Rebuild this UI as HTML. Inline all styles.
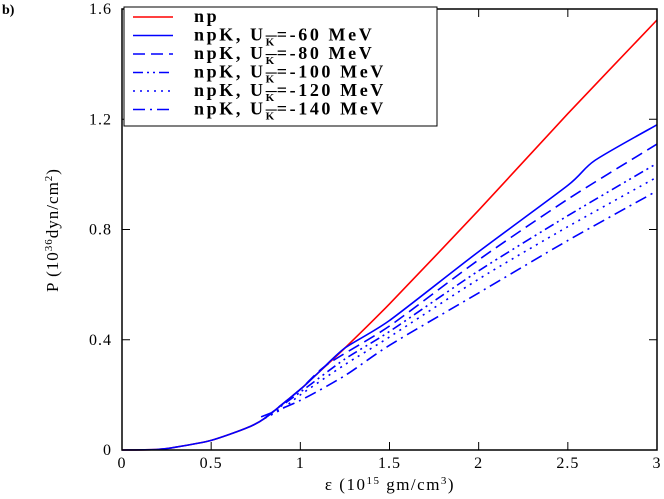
<!DOCTYPE html>
<html><head><meta charset="utf-8"><style>
body{margin:0;background:#fff;width:664px;height:494px;overflow:hidden}
text{font-family:"Liberation Serif",serif}
</style></head><body>
<svg id="chart" width="664" height="494" xmlns="http://www.w3.org/2000/svg"></svg>
<script>
const xTicks=[0,0.5,1,1.5,2,2.5,3];
const xTickLabels=["0","0.5","1","1.5","2","2.5","3"];
const yTicks=[0,0.4,0.8,1.2,1.6];
const yTickLabels=["0","0.4","0.8","1.2","1.6"];
const seriesNames=["np","-60","-80","-100","-120","-140"];
const xNp=[0,0.2,0.3,0.5,0.7,0.8,1.0,1.1,1.25,1.5,2.0,2.5,3.0];
const yNp=[0,0.002,0.01,0.035,0.08,0.115,0.22,0.28,0.37,0.53,0.87,1.22,1.56];
const x60=[0,0.2,0.3,0.5,0.7,0.8,1.0,1.1,1.25,1.5,2.0,2.5,2.65,3.0];
const y60=[0,0.002,0.01,0.035,0.08,0.115,0.22,0.28,0.37,0.47,0.72,0.96,1.05,1.18];
const x80=[0.8,1.0,1.15,1.5,2.0,2.5,3.0];
const y80=[0.115,0.22,0.31,0.45,0.69,0.91,1.11];
const x100=[0.8,1.0,1.25,1.5,2.0,2.5,3.0];
const y100=[0.115,0.21,0.33,0.43,0.65,0.85,1.04];
const x120=[0.8,0.9,1.0,1.25,1.5,2.0,2.5,3.0];
const y120=[0.115,0.15,0.2,0.31,0.41,0.62,0.81,0.99];
const x140=[0.78,1.0,1.25,1.5,2.0,2.5,3.0];
const y140=[0.12,0.18,0.27,0.38,0.57,0.76,0.94];
const L=122,R=657,T=9,B=450;
const sx=v=>L+(R-L)*v/3, sy=v=>B-(B-T)*v/1.6;
const NS="http://www.w3.org/2000/svg", svg=document.getElementById('chart');
function mk(t,a,txt){const e=document.createElementNS(NS,t);for(const k in a)e.setAttribute(k,a[k]);if(txt!=null)e.textContent=txt;svg.appendChild(e);return e;}
function smooth(P){let d='M'+P[0][0].toFixed(1)+','+P[0][1].toFixed(1);
 for(let i=0;i<P.length-1;i++){const p0=P[Math.max(0,i-1)],p1=P[i],p2=P[i+1],p3=P[Math.min(P.length-1,i+2)];
  const c1=[p1[0]+(p2[0]-p0[0])/8,p1[1]+(p2[1]-p0[1])/8],c2=[p2[0]-(p3[0]-p1[0])/8,p2[1]-(p3[1]-p1[1])/8];
  d+='C'+c1.map(v=>v.toFixed(1))+' '+c2.map(v=>v.toFixed(1))+' '+p2[0].toFixed(1)+','+p2[1].toFixed(1);}
 return d;}
const xs=[xNp,x60,x80,x100,x120,x140], ys=[yNp,y60,y80,y100,y120,y140];
const dashes=['','','12,6','10,4,2,4,2,4','2,5','12,5,2,5'];
const colors=['#f00','#00f','#00f','#00f','#00f','#00f'];
xs.forEach((xa,s)=>{
 const P=xa.map((x,i)=>[sx(x),sy(ys[s][i])]);
 const p=mk('path',{d:smooth(P),fill:'none',stroke:colors[s],'stroke-width':1.6,'stroke-dasharray':dashes[s]});
 
 
});
const frame=mk('rect',{x:L,y:T,width:R-L,height:B-T,fill:'none',stroke:'#000','stroke-width':1.5});


xTicks.forEach((v,i)=>{
 const t=mk('line',{x1:sx(v),x2:sx(v),y1:B,y2:B-8,stroke:'#000'});
 
 const t2=mk('line',{x1:sx(v),x2:sx(v),y1:T,y2:T+8,stroke:'#000'});
 
 const l=mk('text',{x:sx(v),y:B+18,'text-anchor':'middle','font-size':16,'letter-spacing':1},xTickLabels[i]);
 
});
yTicks.forEach((v,i)=>{
 const t=mk('line',{x1:L,x2:L+8,y1:sy(v),y2:sy(v),stroke:'#000'});
 
 const t2=mk('line',{x1:R,x2:R-8,y1:sy(v),y2:sy(v),stroke:'#000'});
 
 const l=mk('text',{x:L-10,y:sy(v)+5,'text-anchor':'end','font-size':16,'letter-spacing':1},yTickLabels[i]);
 
});
const lg=mk('rect',{x:124,y:7,width:313,height:119,fill:'#fff',stroke:'#000','stroke-width':1});

const labs=['np','npK, U','npK, U','npK, U','npK, U','npK, U'];
const vals=['','=-60 MeV','=-80 MeV','=-100 MeV','=-120 MeV','=-140 MeV'];
labs.forEach((lb,i)=>{
 const y=17+i*18.5;
 const ln=mk('line',{x1:133,x2:173,y1:y,y2:y,stroke:colors[i],'stroke-width':1.6,'stroke-dasharray':dashes[i]});
 
 const t=mk('text',{x:194,y:y+5,'font-size':18,'font-weight':'bold','letter-spacing':2.6},'');
 
 t.textContent=lb;
 if(i>0){
  const k=document.createElementNS(NS,'tspan');k.setAttribute('font-size','11');k.setAttribute('dy','5');k.setAttribute('text-decoration','overline');k.textContent='K';t.appendChild(k);
  const r=document.createElementNS(NS,'tspan');r.setAttribute('dy','-5');r.textContent=vals[i];t.appendChild(r);
 }
});
const xl=mk('text',{x:390,y:490,'text-anchor':'middle','font-size':17,'letter-spacing':1.5},'ε (10');

[['15',-6,11],[' gm/cm',6,17],['3',-6,11],[')',6,17]].forEach(a=>{const s=document.createElementNS(NS,'tspan');s.setAttribute('dy',a[1]);s.setAttribute('font-size',a[2]);s.textContent=a[0];xl.appendChild(s);});
const yl=mk('text',{x:0,y:0,'text-anchor':'middle','font-size':17,'letter-spacing':1,transform:'translate(58,230) rotate(-90)'},'P (10');

[['36',-6,11],['dyn/cm',6,17],['2',-6,11],[')',6,17]].forEach(a=>{const s=document.createElementNS(NS,'tspan');s.setAttribute('dy',a[1]);s.setAttribute('font-size',a[2]);s.textContent=a[0];yl.appendChild(s);});
const pl=mk('text',{x:2,y:14,'font-size':14,'font-weight':'bold'},'b)');

</script>
</body></html>
